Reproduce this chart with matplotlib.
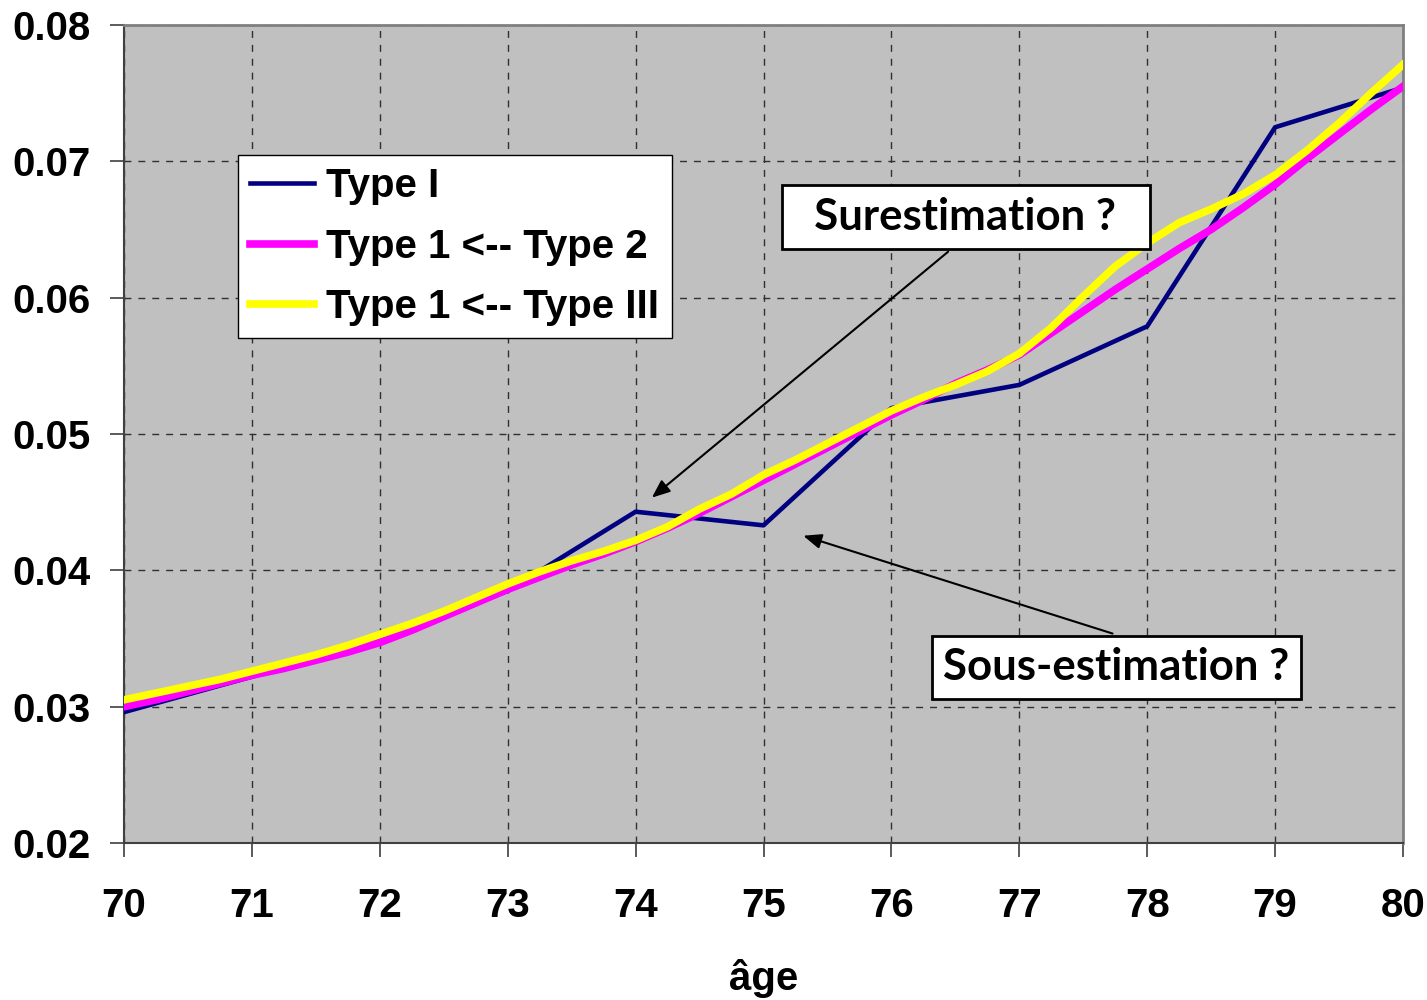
import numpy as np
import matplotlib.pyplot as plt

ages = list(range(70, 81))
type1 = [0.0296, 0.0322, 0.0348, 0.0385, 0.0443, 0.0433, 0.0519, 0.0536, 0.0579, 0.0725, 0.0754]

# quarter-year ages for the two fitted curves
ages_q = np.arange(70, 80.01, 0.25)
type1_from2 = [0.0300, 0.0305, 0.0311, 0.0317, 0.0323, 0.0328, 0.0334, 0.0340,
               0.0347, 0.0356, 0.0366, 0.0376, 0.0386, 0.0395, 0.0404, 0.0412,
               0.0421, 0.0431, 0.0442, 0.0454, 0.0466, 0.0478, 0.0490, 0.0502,
               0.0514, 0.0525, 0.0537, 0.0547, 0.0558, 0.0574, 0.0590, 0.0606,
               0.0621, 0.0636, 0.0650, 0.0666, 0.0683, 0.0702, 0.0720, 0.0738,
               0.0755]
type1_from3 = [0.0305, 0.0310, 0.0315, 0.0320, 0.0326, 0.0332, 0.0338, 0.0345,
               0.0353, 0.0361, 0.0370, 0.0380, 0.0390, 0.0399, 0.0407, 0.0414,
               0.0422, 0.0432, 0.0445, 0.0456, 0.0470, 0.0481, 0.0493, 0.0505,
               0.0517, 0.0527, 0.0536, 0.0546, 0.0559, 0.0578, 0.0601, 0.0623,
               0.0640, 0.0655, 0.0665, 0.0676, 0.0690, 0.0708, 0.0728, 0.0750,
               0.0771]

yticks = [0.02, 0.03, 0.04, 0.05, 0.06, 0.07, 0.08]

plt.rcParams['font.family'] = ['Liberation Sans', 'DejaVu Sans']
plt.rcParams['font.weight'] = 'bold'

fig = plt.figure(figsize=(14.27, 10), dpi=100)
ax = fig.add_axes([0.0869, 0.157, 0.8963, 0.818])
ax.set_facecolor('#C0C0C0')

ax.plot(ages, type1, color='#000080', lw=3.3, label='Type I', zorder=3)
ax.plot(ages_q, type1_from2, color='#FF00FF', lw=5.5, label='Type 1 <-- Type 2', zorder=4)
ax.plot(ages_q, type1_from3, color='#FFFF00', lw=5.5, label='Type 1 <-- Type III', zorder=5)

ax.set_xlim(70, 80)
ax.set_ylim(0.02, 0.08)
ax.set_xticks(ages)
ax.set_yticks(yticks)
ax.set_yticklabels(['%.2f' % v for v in yticks])
ax.grid(True, color='#303030', linestyle=(0, (5, 5)), lw=1)
ax.tick_params(axis='both', labelsize=29, length=10, width=1.2, color='#404040')
ax.tick_params(axis='x', pad=22)
ax.tick_params(axis='y', pad=14)
for lab in ax.get_xticklabels() + ax.get_yticklabels():
    lab.set_fontweight('bold')
for s in ['left', 'bottom']:
    ax.spines[s].set_color('#404040')
    ax.spines[s].set_linewidth(1.5)
for s in ['top', 'right']:
    ax.spines[s].set_color('#808080')
    ax.spines[s].set_linewidth(2)

ax.set_xlabel('âge', fontsize=29, fontweight='bold', labelpad=24)

leg = ax.legend(loc='upper left', bbox_to_anchor=(0.089, 0.841),
                prop={'weight': 'bold', 'size': 29}, frameon=True, fancybox=False,
                framealpha=1, edgecolor='black', handlelength=1.6,
                handletextpad=0.3, labelspacing=0.56, borderpad=0.3,
                borderaxespad=0)
leg.get_frame().set_linewidth(1)

head = '-|>,head_length=1.1,head_width=0.45'
ax.annotate('', xy=(74.11, 0.0452), xytext=(76.46, 0.0635),
            arrowprops=dict(arrowstyle=head, color='black', lw=1.5), zorder=6)
ax.annotate('', xy=(75.29, 0.0426), xytext=(77.75, 0.0353),
            arrowprops=dict(arrowstyle=head, color='black', lw=1.5), zorder=6)
ax.text(76.58, 0.0659, '  Surestimation ?  ', fontsize=31.5, fontweight='bold',
        family=['Lato', 'DejaVu Sans'], ha='center', va='center', zorder=7,
        bbox=dict(boxstyle='square,pad=0.27', fc='white', ec='black', lw=2))
ax.text(77.76, 0.0329, 'Sous-estimation ?', fontsize=31.5, fontweight='bold',
        family=['Lato', 'DejaVu Sans'], ha='center', va='center', zorder=7,
        bbox=dict(boxstyle='square,pad=0.26', fc='white', ec='black', lw=2))

fig.savefig('out.png', dpi=100)
